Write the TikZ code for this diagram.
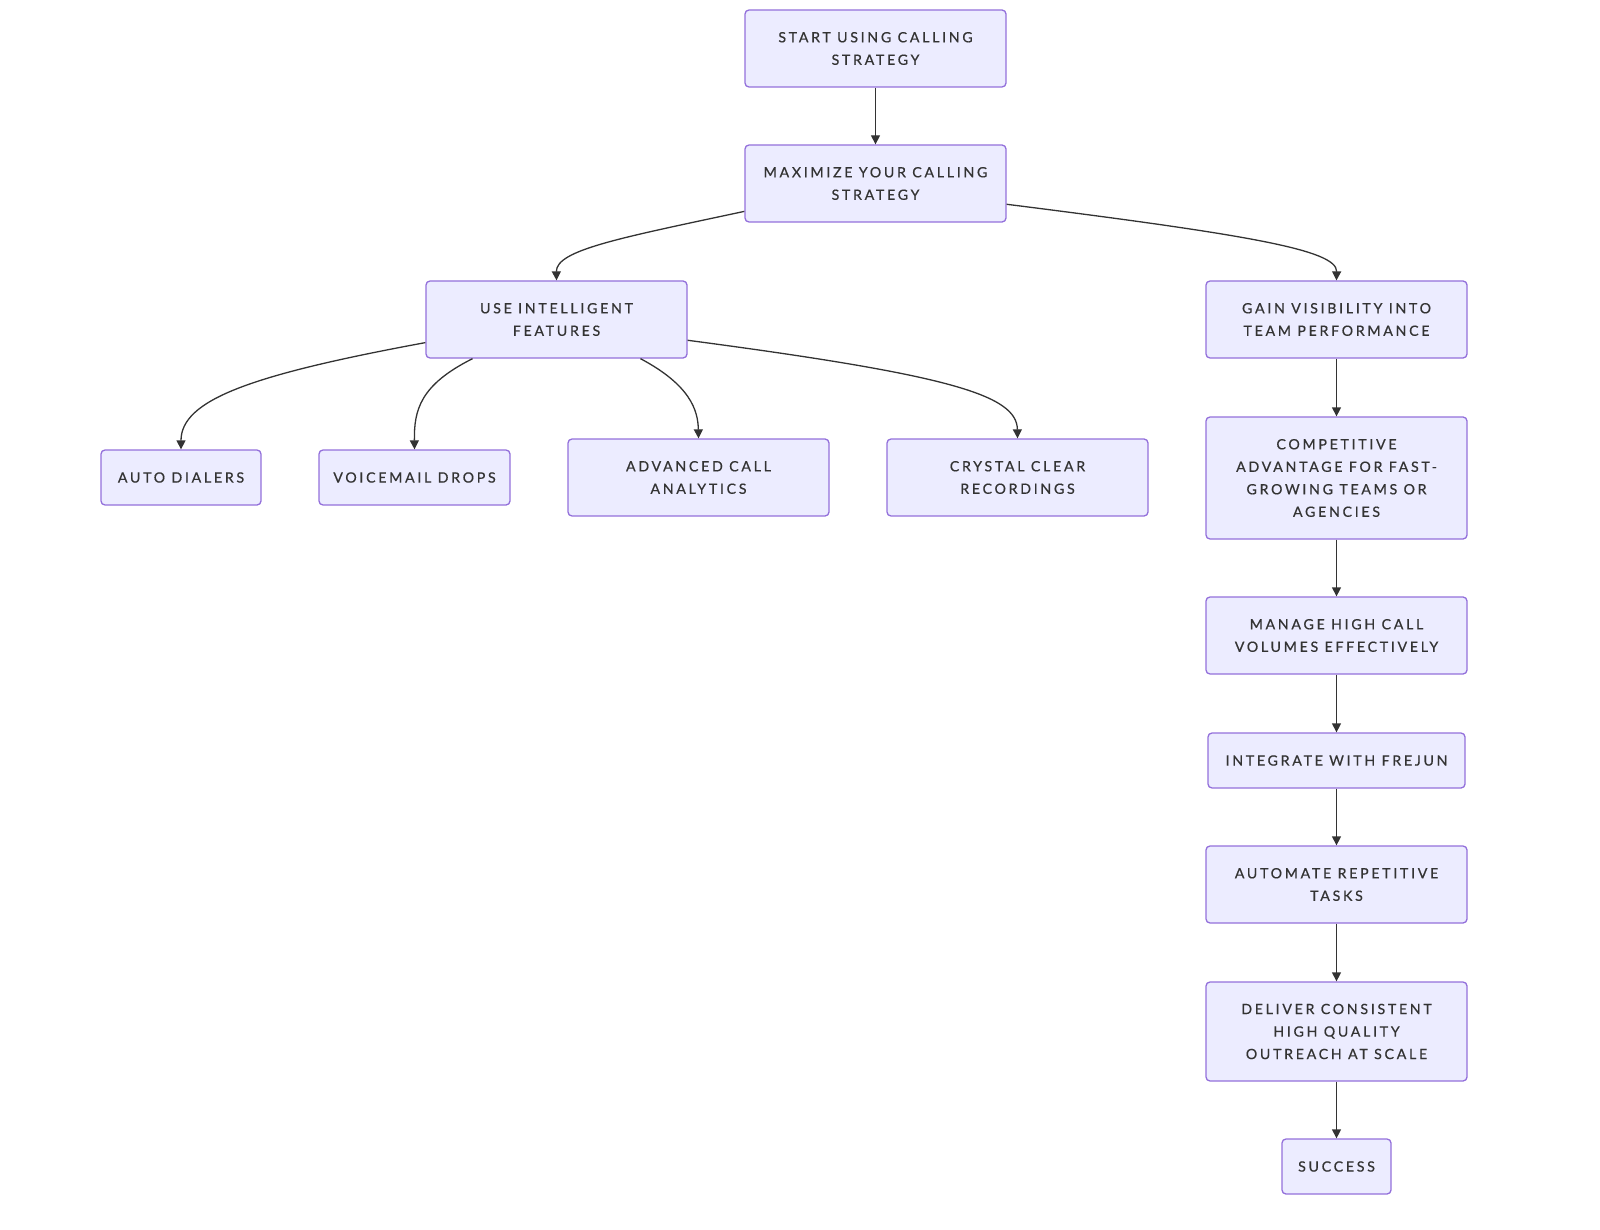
\documentclass[tikz,border=0pt]{standalone}
\usepackage{fontspec}
\setmainfont{Lato}[LetterSpace=19,FakeBold=0.6]
\usetikzlibrary{arrows.meta}
\definecolor{boxfill}{HTML}{ECECFF}
\definecolor{boxline}{HTML}{9370DB}
\definecolor{txt}{HTML}{333333}
\begin{document}
\begin{tikzpicture}[x=1pt,y=-1pt,
  box/.style={draw=boxline,fill=boxfill,line width=1.3pt,rounded corners=4pt,
    text=txt,align=center,inner sep=0pt,font=\fontsize{14.2}{22.5}\selectfont},
  conn/.style={draw=txt,line width=1.3pt,-{Triangle[length=9pt,width=9pt]}}]
\useasboundingbox (0,0) rectangle (1600,1230);
\node[box,minimum width=261,minimum height=77] (start) at (875.5,48.5) {START USING CALLING\\STRATEGY};
\node[box,minimum width=261,minimum height=77] (max) at (875.5,183.5) {MAXIMIZE YOUR CALLING\\STRATEGY};
\node[box,minimum width=261,minimum height=77] (use) at (556.5,319.5) {USE INTELLIGENT\\FEATURES};
\node[box,minimum width=261,minimum height=77] (gain) at (1336.5,319.5) {GAIN VISIBILITY INTO\\TEAM PERFORMANCE};
\node[box,minimum width=160,minimum height=55] (auto) at (181,477.5) {AUTO DIALERS};
\node[box,minimum width=191,minimum height=55] (voice) at (414.5,477.5) {VOICEMAIL DROPS};
\node[box,minimum width=261,minimum height=77] (adv) at (698.5,477.5) {ADVANCED CALL\\ANALYTICS};
\node[box,minimum width=261,minimum height=77] (crys) at (1017.5,477.5) {CRYSTAL CLEAR\\RECORDINGS};
\node[box,minimum width=261,minimum height=122] (comp) at (1336.5,478) {COMPETITIVE\\ADVANTAGE FOR FAST-\\GROWING TEAMS OR\\AGENCIES};
\node[box,minimum width=261,minimum height=77] (man) at (1336.5,635.5) {MANAGE HIGH CALL\\VOLUMES EFFECTIVELY};
\node[box,minimum width=257,minimum height=55] (integ) at (1336.5,760.5) {INTEGRATE WITH FREJUN};
\node[box,minimum width=261,minimum height=77] (autom) at (1336.5,884.5) {AUTOMATE REPETITIVE\\TASKS};
\node[box,minimum width=261,minimum height=99] (deliv) at (1336.5,1031.5) {DELIVER CONSISTENT\\HIGH QUALITY\\OUTREACH AT SCALE};
\node[box,minimum width=109,minimum height=55] (succ) at (1336.5,1166.5) {SUCCESS};

\draw[conn] (start.south) -- (max.north);
\draw[conn] (max.192) .. controls (620,238) and (556,250) .. (use.north);
\draw[conn] (max.351) .. controls (1250,235) and (1337,250) .. (gain.north);
\draw[conn] (use.190.6) .. controls (250,375) and (181,400) .. (auto.north);
\draw[conn] (use.205) .. controls (420,385) and (414,410) .. (voice.north);
\draw[conn] (use.335) .. controls (690,385) and (698,410) .. (adv.north);
\draw[conn] (use.351.5) .. controls (950,375) and (1017,395) .. (crys.north);
\draw[conn] (gain.south) -- (comp.north);
\draw[conn] (comp.south) -- (man.north);
\draw[conn] (man.south) -- (integ.north);
\draw[conn] (integ.south) -- (autom.north);
\draw[conn] (autom.south) -- (deliv.north);
\draw[conn] (deliv.south) -- (succ.north);
\end{tikzpicture}
\end{document}
